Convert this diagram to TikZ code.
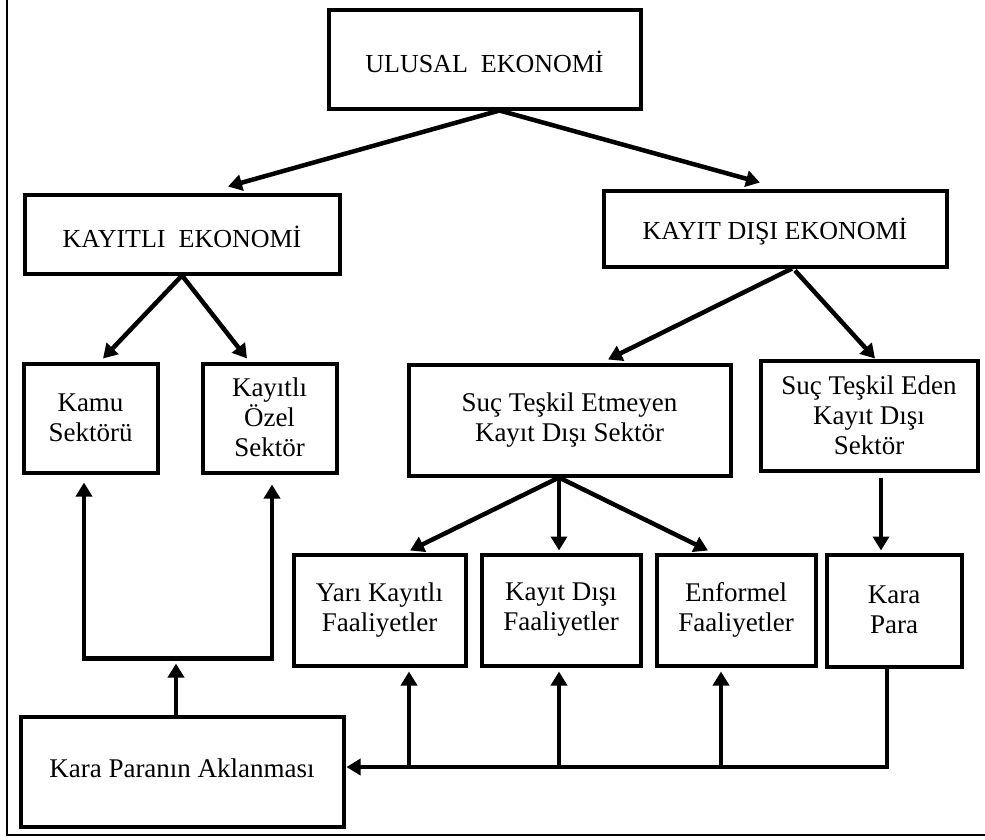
\documentclass[tikz,border=0pt]{standalone}
\usepackage{fontspec}
\setmainfont{Liberation Serif}
\usetikzlibrary{arrows.meta,calc}
\newcommand{\kutudayak}{\rule[-1pt]{0pt}{29pt}}
\begin{document}
\begin{tikzpicture}[x=1pt,y=-1pt,
    kutu/.style={draw,line width=4pt,rectangle,align=center,inner sep=2pt,
      font=\fontsize{27}{30}\selectfont,
      execute at begin node=\kutudayak,execute at end node=\kutudayak},
    tekkutu/.style={kutu,font=\fontsize{26}{30}\selectfont,
      execute at begin node={},execute at end node={}},
    ok/.style={line width=4.5pt,line join=miter,-{Triangle[length=14pt,width=16pt]}},
    ciftok/.style={line width=4.5pt,line join=miter,{Triangle[length=14pt,width=16pt]}-{Triangle[length=14pt,width=16pt]}}]
\useasboundingbox (0,0) rectangle (985,839);
% cerceve
\draw[line width=1.5pt] (7,0) -- (7,835) -- (985,835);

% kutular
\node[tekkutu,minimum width=312,minimum height=99] (ulusal) at (484.5,59) {ULUSAL\ \ EKONOMİ};
\node[tekkutu,minimum width=315,minimum height=79] (kayitli) at (182,234) {KAYITLI\ \ EKONOMİ};
\node[tekkutu,minimum width=343,minimum height=76] (kayitdisi) at (775,228.5) {KAYIT DIŞI EKONOMİ};
\node[kutu,minimum width=134,minimum height=109] (kamu) at (90.5,418) {Kamu\\Sektörü};
\node[kutu,minimum width=134,minimum height=109] (ozel) at (269.5,418) {Kayıtlı\\Özel\\Sektör};
\node[kutu,minimum width=322,minimum height=111] (etmeyen) at (569.5,420) {Suç Teşkil Etmeyen\\Kayıt Dışı Sektör};
\node[kutu,minimum width=217,minimum height=110] (eden) at (869,415.5) {Suç Teşkil Eden\\Kayıt Dışı\\Sektör};
\node[kutu,minimum width=172,minimum height=111] (yari) at (379.5,610) {Yarı Kayıtlı\\Faaliyetler};
\node[kutu,minimum width=159,minimum height=111] (kdfaal) at (561,610) {Kayıt Dışı\\Faaliyetler};
\node[kutu,minimum width=159,minimum height=111] (enformel) at (736,610) {Enformel\\Faaliyetler};
\node[kutu,minimum width=135,minimum height=112] (karapara) at (894,610.5) {Kara\\Para};
\node[tekkutu,font=\fontsize{27}{30}\selectfont,minimum width=323,minimum height=110] (aklanma) at (182,771.5) {\raisebox{8pt}[18pt][0pt]{Kara Paranın Aklanması}};

% ust oklar
\draw[ok] ($(ulusal.south)+(15,0)$) -- ($(kayitli.north)+(46,-6)$);
\draw[ok] ($(ulusal.south)+(15,0)$) -- ($(kayitdisi.north)+(-15,-6)$);
\draw[ok] (kayitli.south) -- ($(kamu.north)+(12.5,-3)$);
\draw[ok] (kayitli.south) -- ($(ozel.north)+(-22.5,-3)$);
\draw[ok] ($(kayitdisi.south)+(17,0)$) -- ($(etmeyen.north)+(38.5,-3)$);
\draw[ok] ($(kayitdisi.south)+(20,2)$) -- ($(eden.north)+(6,0)$);
\draw[ok] ($(etmeyen.south)+(-10.5,0)$) -- ($(yari.north)+(30.5,-2)$);
\draw[ok] ($(etmeyen.south)+(-10.5,0)$) -- ($(kdfaal.north)+(-2,-2)$);
\draw[ok] ($(etmeyen.south)+(-10.5,0)$) -- ($(enformel.north)+(-28,-2)$);
\draw[ok] ($(eden.south)+(12,5)$) -- ($(karapara.north)+(-13,-2)$);

% alt oklar
\draw[ok] ($(karapara.south)+(-7,0)$) |- ($(aklanma.east)+(1,-4.5)$);
\foreach \kutu/\dx in {yari/29.5,kdfaal/-2,enformel/-15}
  \draw[ok] ($(\kutu.south)+(\dx,99)$) -- ($(\kutu.south)+(\dx,4)$);
\draw[ok] ($(aklanma.north)+(-6,0)$) -- ($(aklanma.north)+(-6,-51)$);
\coordinate (solkose) at ($(kamu.south)+(-6.5,184)$);
\coordinate (sagkose) at ($(ozel.south)+(2.5,184)$);
\draw[ciftok] ($(kamu.south)+(-6.5,8)$) -- (solkose) -- (sagkose) -- ($(ozel.south)+(2.5,10)$);
\end{tikzpicture}
\end{document}
